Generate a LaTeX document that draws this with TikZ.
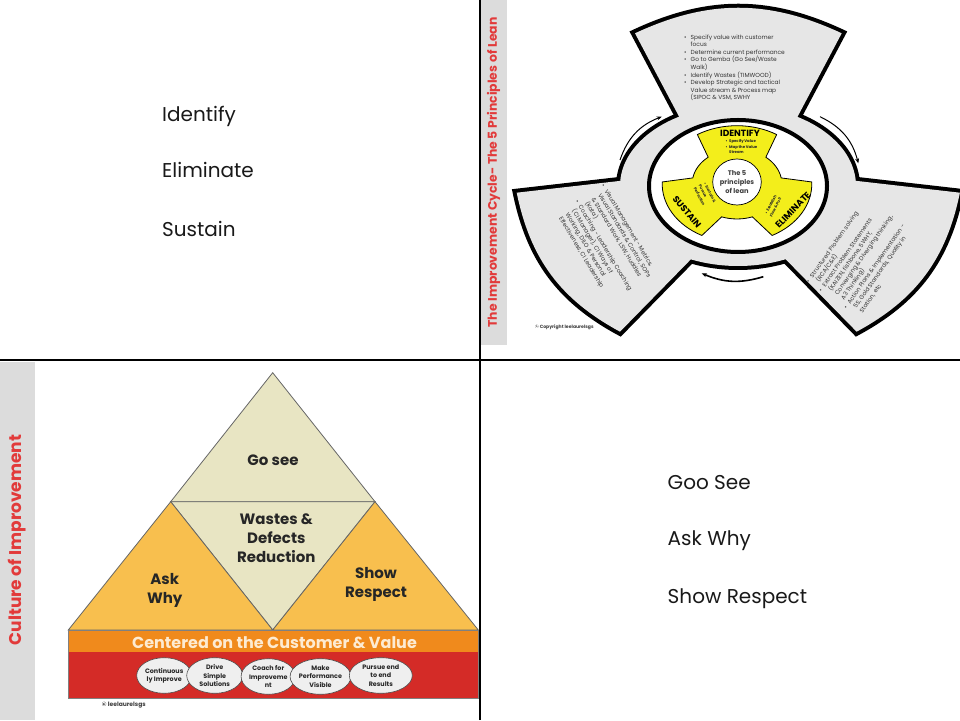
\documentclass[tikz,border=0pt]{standalone}
\usepackage{fontspec}
\setmainfont{Poppins}
\usetikzlibrary{arrows.meta,shapes.geometric}
\definecolor{lobegray}{HTML}{E6E6E6}
\definecolor{stripgray}{HTML}{DCDCDC}
\definecolor{titlered}{HTML}{E23A3A}
\definecolor{idyellow}{HTML}{F3EE1B}
\definecolor{khaki}{HTML}{E8E5C3}
\definecolor{amber}{HTML}{F8BF4E}
\definecolor{barorange}{HTML}{F08A1C}
\definecolor{barred}{HTML}{D42B27}
\definecolor{cream}{HTML}{FDEBD2}
\definecolor{ovalfill}{HTML}{EFEFEF}
\newcommand{\lbul}{\makebox[6.5pt][l]{\textbullet}}
\newcommand{\lcont}{\hspace*{6.5pt}}
\newcommand{\ybul}{\makebox[3.5pt][l]{\textbullet}}
\def\ringpath{(738,534) ellipse [x radius=118, y radius=80]}
\def\toppath{(702,560) -- (635,686.7) to[bend left=25] (841.7,686.7) -- (774.6,560) -- cycle}
\def\leftpath{(670,544.8) -- (516.7,527.3) to[bend right=25] (620,388.3) -- (700,470) -- cycle}
\def\rightpath{(806.6,544.8) -- (959.9,527.3) to[bend left=25] (856.6,388.3) -- (776.6,470) -- cycle}
\begin{document}
\begin{tikzpicture}[x=1pt,y=1pt,
  bigtxt/.style={font=\fontsize{20}{24}\selectfont, anchor=base west, inner sep=0pt, text=black!90},
  sidetitle/.style={rotate=90, text=titlered, inner sep=0pt},
  lobetxt/.style={font=\fontsize{5.9}{7.6}\selectfont, align=left, text=black!80, inner sep=0pt},
  ytxt/.style={font=\fontsize{3.8}{5.6}\selectfont\bfseries, align=left, inner sep=0pt, text=black!85},
  yhead/.style={font=\fontsize{9}{10}\selectfont\bfseries, inner sep=0pt},
  outline/.style={draw=black, line width=8pt, fill=lobegray},
  cyclearrow/.style={draw=black, line width=1pt, -{Stealth[length=5pt,width=4pt]}},
  pyr/.style={draw=black!60, line width=0.8pt},
  pyrtxt/.style={font=\fontsize{15}{19}\selectfont\bfseries, align=center, text=black!85, inner sep=0pt},
  oval/.style={ellipse, draw=black!70, line width=0.6pt, fill=ovalfill, minimum width=#1, minimum height=35.6pt, inner sep=0pt, align=center, font=\fontsize{6.4}{8.4}\selectfont\bfseries, text=black!85},
  credit/.style={font=\fontsize{5}{6}\selectfont\bfseries, text=black!75, inner sep=0pt, anchor=west}
]
\useasboundingbox (0,0) rectangle (960,720);
\fill[white] (0,0) rectangle (960,720);

% ---------- top-left panel ----------
\node[bigtxt] (t1) at (162,598) {Identify};
\node[bigtxt] (t2) at (162,542.5) {Eliminate};
\node[bigtxt] (t3) at (162,483.5) {Sustain};

% ---------- bottom-right panel ----------
\node[bigtxt] (b1) at (667.5,230.5) {Goo See};
\node[bigtxt] (b2) at (667.5,174) {Ask Why};
\node[bigtxt] (b3) at (667.5,116.5) {Show Respect};

% ---------- top-right panel: improvement cycle ----------
\fill[stripgray] (480,375) rectangle (507,720);
\node[sidetitle, font=\fontsize{12.4}{13}\selectfont\bfseries] (trtitle) at (493.5,547.5) {The Improvement Cycle- The 5 Principles of Lean};

\path[outline] \ringpath;
\path[outline] \toppath;
\path[outline] \leftpath;
\path[outline] \rightpath;
\path[fill=lobegray] \ringpath;
\path[fill=lobegray] \toppath;
\path[fill=lobegray] \leftpath;
\path[fill=lobegray] \rightpath;
\path[fill=white, draw=black, line width=4pt] (738,534) ellipse [x radius=89, y radius=66];

% arrows
\coordinate (a1s) at (620,560);
\coordinate (a1e) at (661.7,603.3);
\coordinate (a2s) at (820,603.3);
\coordinate (a2e) at (858.3,556.7);
\coordinate (a3s) at (763.3,443.3);
\coordinate (a3e) at (701.7,446.7);
\draw[cyclearrow] (a1s) to[bend left=25] (a1e);
\draw[cyclearrow] (a2s) to[bend left=25] (a2e);
\draw[cyclearrow, line width=1.6pt] (a3s) to[bend left=20] (a3e);

% yellow emblem
\begin{scope}[shift={(737,536)}, xscale=1.36, yscale=1.06]
\path[fill=idyellow, draw=black, line width=0.8pt]
 (58:55) arc[start angle=58, end angle=122, radius=55] -- (130:33)
 arc[start angle=130, end angle=170, radius=33] -- (178:55)
 arc[start angle=178, end angle=242, radius=55] -- (250:33)
 arc[start angle=250, end angle=290, radius=33] -- (298:55)
 arc[start angle=298, end angle=362, radius=55] -- (10:33)
 arc[start angle=10, end angle=50, radius=33] -- cycle;
\end{scope}
\node[ellipse, draw=black, line width=0.7pt, fill=white, minimum width=48pt, minimum height=46pt, inner sep=0pt, align=center, font=\fontsize{6.7}{9.3}\selectfont\bfseries, text=black!75] (core) at (737,538) {The 5\\principles\\of lean};
\node[yhead] (idh) at (740,587) {IDENTIFY};
\node[ytxt, anchor=north west] (ids) at (725.5,580.5) {\ybul Specify Value\\\ybul Map the Value\\\hspace*{3.5pt}Stream};
\node[yhead, rotate=-50] (sus) at (687,508) {SUSTAIN};
\node[ytxt, rotate=-63] (suss) at (705,525) {\ybul Sustain \&\\Pursue\\Perfection};
\node[yhead, rotate=46] (eli) at (793,510) {ELIMINATE};
\node[ytxt, rotate=63] (elis) at (773,514) {\ybul Establish\\Flow \& Pull};

% gray lobe texts
\node[lobetxt, anchor=north west] (toplist) at (684,685.5) {\lbul Specify value with customer\\\lcont focus\\\lbul Determine current performance\\\lbul Go to Gemba (Go See/Waste\\\lcont Walk)\\\lbul Identify Wastes (TIMWOOD)\\\lbul Develop Strategic and tactical\\\lcont Value stream \& Process map\\\lcont (SIPOC \& VSM, SWHY};
\node[lobetxt, rotate=-59] (leftlist) at (606.5,476.5) {\lbul Visual Management - Metrics,\\\lcont Visual Standards \& Control, SOPs\\\lcont \& Standard Work, LSW, Huddles\\\lcont (Kata)\\\lbul Coaching - Leadership Coaching\\\lcont (CI Manager), CI Ways of\\\lcont Working, DILO \& Personal\\\lcont Effectiveness, CI Leadership};
\node[lobetxt, rotate=55] (rightlist) at (862,462) {\lbul Structured Problem solving\\\lcont (RCA/C\&E)\\\lbul Extract Problem Statements\\\lcont (KAIZEN, fishbone, 5WHY,\\\lcont Converging \& Diverging thinking,\\\lcont A3 Thinking)\\\lbul Action Plans \& Implementation -\\\lcont 5S, Gold Standards, Quality in\\\lcont Station, etc};
\node[credit, font=\fontsize{4.6}{5}\selectfont\bfseries] (trcopy) at (535,393) {\textcopyright{} Copyright leelaurelsgs};

% ---------- bottom-left panel: pyramid ----------
\fill[stripgray] (0,0) rectangle (35,358);
\node[sidetitle, font=\fontsize{17}{19}\selectfont\bfseries] (bltitle) at (17.5,180) {Culture of Improvement};

\coordinate (apex) at (272.7,347.3);
\coordinate (ml) at (170.7,218.3);
\coordinate (mr) at (375,218.3);
\coordinate (bl) at (68.3,90);
\coordinate (br) at (478.3,90);
\coordinate (bm) at (272.7,90);
\path[pyr, fill=khaki] (apex) -- (ml) -- (mr) -- cycle;
\path[pyr, fill=khaki] (ml) -- (mr) -- (bm) -- cycle;
\path[pyr, fill=amber] (ml) -- (bl) -- (bm) -- cycle;
\path[pyr, fill=amber] (mr) -- (bm) -- (br) -- cycle;
\fill[barorange] (68.3,68.3) rectangle (478.3,90);
\fill[barred] (68.3,21.7) rectangle (478.3,68.3);
\draw[black!50, line width=0.5pt] (68.3,21.7) rectangle (478.3,90);
\node[font=\fontsize{16}{17}\selectfont\bfseries, text=cream, inner sep=0pt] (cust) at (274.5,77.5) {Centered on the Customer \& Value};

\node[pyrtxt] (gosee) at (273,260) {Go see};
\node[pyrtxt] (waste) at (276.3,181.7) {Wastes \&\\Defects\\Reduction};
\node[pyrtxt] (ask) at (164.7,129.7) {Ask\\Why};
\node[pyrtxt] (show) at (376,135.3) {Show\\Respect};

\node[oval=55pt] (o1) at (164.2,44.5) {Continuous\\ly Improve};
\node[oval=56pt] (o2) at (214.7,44.5) {Drive\\Simple\\Solutions};
\node[oval=53pt] (o3) at (268.3,43.5) {Coach for\\Improveme\\nt};
\node[oval=59pt] (o4) at (320.5,43.5) {Make\\Performance\\Visible};
\node[oval=63pt] (o5) at (380.8,44.5) {Pursue end\\to end\\Results};

\node[credit, font=\fontsize{6}{7}\selectfont\bfseries] (blcopy) at (101.7,14.5) {\textcopyright{} leelaurelsgs};

% ---------- dividers ----------
\draw[black, line width=1.3pt] (480,0) -- (480,720);
\draw[black, line width=1.3pt] (0,360) -- (960,360);
\end{tikzpicture}
\end{document}
